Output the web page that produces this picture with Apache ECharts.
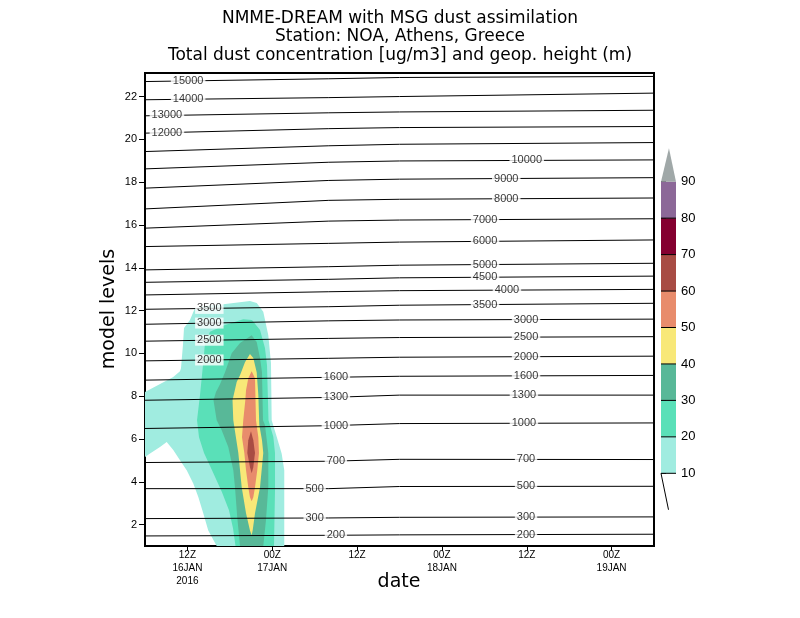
<!DOCTYPE html>
<html>
<head>
<meta charset="utf-8">
<script src="https://cdn.jsdelivr.net/npm/echarts@6/dist/echarts.min.js"></script>
<style>
html,body{margin:0;padding:0;background:#fff}
#chart{width:800px;height:618px}
</style>
</head>
<body>
<div id="chart"></div>
<script>
// time axis in hours since 00Z 16JAN2016
var xTicks = [12, 24, 36, 48, 60, 72];
var xTickLabels = ['12Z\n16JAN\n2016', '00Z\n17JAN', '12Z', '00Z\n18JAN', '12Z', '00Z\n19JAN'];
var yTicks = [2, 4, 6, 8, 10, 12, 14, 16, 18, 20, 22];

// geopotential height contours (model level at each hour of geoHours)
var geoHours = [6, 32, 42, 78];
var geoHeights = [15000, 14000, 13000, 12000, 11000, 10000, 9000, 8000, 7000, 6000, 5000, 4500,
                  4000, 3500, 3000, 2500, 2000, 1600, 1300, 1000, 700, 500, 300, 200];
var geoLevels = [
    [22.70, 22.83, 22.89, 22.94],
    [21.85, 21.95, 22.00, 22.16],
    [21.10, 21.24, 21.28, 21.36],
    [20.29, 20.50, 20.55, 20.60],
    [19.43, 19.70, 19.77, 19.85],
    [18.62, 18.93, 18.99, 19.04],
    [17.72, 18.08, 18.14, 18.21],
    [16.75, 17.15, 17.20, 17.26],
    [15.85, 16.18, 16.23, 16.29],
    [14.99, 15.14, 15.20, 15.30],
    [13.90, 14.05, 14.12, 14.21],
    [13.32, 13.46, 13.53, 13.61],
    [12.73, 12.88, 12.93, 12.99],
    [12.06, 12.18, 12.25, 12.34],
    [11.36, 11.52, 11.56, 11.60],
    [10.57, 10.70, 10.74, 10.78],
    [9.65, 9.77, 9.82, 9.87],
    [8.75, 8.88, 8.93, 8.97],
    [7.81, 7.94, 8.05, 8.05],
    [6.49, 6.62, 6.72, 6.75],
    [4.90, 4.96, 5.05, 5.04],
    [3.68, 3.68, 3.78, 3.79],
    [2.28, 2.31, 2.34, 2.36],
    [1.47, 1.50, 1.52, 1.55]
];
// where the contour labels sit (hours)
var geoLabelHours = [[12.1], [12.1], [9.1], [9.1], [], [60.0], [57.1], [57.1], [54.1], [54.1], [54.1], [54.1],
    [57.2], [15.1, 54.1], [15.1, 59.9], [15.1, 59.9], [15.1, 59.9], [33.0, 59.9], [33.0, 59.6], [33.0, 59.6],
    [33.0, 59.9], [30.0, 59.9], [30.0, 59.9], [33.0, 59.9]];

// dust concentration shaded areas, outline of region >= level, [hour, model level]
var dust10 = [[6.00, 8.20], [10.00, 8.90], [10.95, 9.17], [11.09, 9.31], [11.37, 10.39], [11.52, 11.18], [12.36, 11.56],
    [13.07, 12.12], [14.73, 12.23], [17.08, 12.29], [20.85, 12.45], [21.80, 12.35], [22.73, 11.94], [23.44, 10.85],
    [23.82, 9.55], [23.92, 6.88], [24.63, 6.10], [25.33, 5.32], [25.70, 4.54], [25.70, 1], [16.14, 1], [14.95, 1.73],
    [14.25, 2.52], [13.54, 3.29], [12.83, 3.92], [11.90, 4.54], [10.95, 5.01], [10.00, 5.48], [9.07, 5.86],
    [8.12, 5.63], [6.71, 5.32], [6.00, 5.16]];
var dust20 = [[15.19, 11.01], [17.32, 11.32], [19.90, 11.60], [21.13, 11.56], [22.27, 11.09], [22.97, 10.25],
    [23.26, 9.45], [23.47, 6.88], [24.15, 6.10], [24.39, 5.34], [24.39, 3.61], [24.25, 1], [18.80, 1], [18.45, 1.83],
    [17.88, 2.67], [16.89, 3.51], [15.48, 4.54], [14.35, 5.34], [13.64, 6.08], [13.36, 6.88], [13.78, 8.05],
    [14.20, 9.45], [14.49, 10.48]];
var dust30 = [[19.44, 10.48], [21.09, 10.85], [21.80, 10.53], [22.27, 9.78], [22.55, 9.12], [22.69, 6.88],
    [22.97, 6.65], [23.44, 5.34], [23.44, 3.75], [23.11, 2.20], [22.73, 1], [19.44, 1], [19.05, 2.34], [18.73, 3.75],
    [18.49, 4.54], [17.78, 5.62], [16.85, 6.41], [16.14, 6.88], [15.69, 7.81], [16.04, 8.19], [16.61, 8.56],
    [17.32, 9.12], [18.26, 10.01]];
var dust40 = [[20.85, 9.97], [21.32, 9.78], [21.80, 9.12], [22.03, 8.05], [22.17, 6.65], [22.55, 5.94], [22.73, 5.34],
    [22.27, 3.75], [21.56, 2.53], [21.23, 1.73], [21.09, 1.50], [20.85, 1.73], [20.29, 2.53], [19.68, 3.75],
    [19.20, 5.34], [18.49, 6.88], [18.38, 7.81], [18.97, 8.66], [19.44, 8.98], [20.14, 9.59]];
var dust50 = [[21.09, 9.17], [21.56, 8.84], [21.70, 6.88], [22.03, 6.08], [22.12, 5.34], [21.88, 4.54], [21.56, 3.75],
    [21.32, 3.28], [21.09, 3.09], [20.85, 3.28], [20.61, 3.75], [20.29, 4.54], [20.05, 5.34], [19.72, 6.08],
    [19.90, 6.88], [20.19, 7.81], [20.29, 8.28], [20.61, 8.84]];
var dust60 = [[20.99, 6.36], [21.32, 5.94], [21.56, 5.34], [21.32, 4.68], [21.09, 4.40], [20.85, 4.68], [20.47, 5.34],
    [20.61, 5.94]];

// colour scale
var cbLevels = [10, 20, 30, 40, 50, 60, 70, 80, 90];
var cbColors = ['#a0ece0', '#5ae0b8', '#58b898', '#f8e878', '#e88c6c', '#a84c44', '#840030', '#8c6898'];
var cbOverColor = '#a0a8a8';

var dustShapes = [dust10, dust20, dust30, dust40, dust50, dust60];

var chart = echarts.init(document.getElementById('chart'));
var FONT = 'Liberation Sans';
var TFONT = '17px "DejaVu Sans"';

function levelAt(i, h) {
    var L = geoLevels[i];
    for (var j = 0; j < geoHours.length - 1; j++) {
        if (h >= geoHours[j] && h <= geoHours[j + 1]) {
            var t = (h - geoHours[j]) / (geoHours[j + 1] - geoHours[j]);
            return L[j] + t * (L[j + 1] - L[j]);
        }
    }
    return L[L.length - 1];
}

var series = [];

series.push({
    type: 'custom',
    xAxisIndex: 0, yAxisIndex: 0,
    silent: true, z: 1, clip: true,
    data: dustShapes.map(function(s, i) { return [s[0][0], s[0][1], i]; }),
    renderItem: function(params, api) {
        var i = api.value(2);
        return {
            type: 'polygon',
            shape: { points: dustShapes[i].map(function(p) { return api.coord(p); }) },
            style: { fill: cbColors[i], stroke: null }
        };
    }
});

var labelData = [];
for (var i = 0; i < geoHeights.length; i++) {
    series.push({
        type: 'line',
        xAxisIndex: 0, yAxisIndex: 0,
        silent: true, z: 3,
        symbol: 'none',
        lineStyle: { color: '#000', width: 1 },
        data: geoHours.map(function(h, j) { return [h, geoLevels[i][j]]; })
    });
    geoLabelHours[i].forEach(function(h) {
        labelData.push([h, levelAt(i, h), geoHeights[i]]);
    });
}

series.push({
    type: 'scatter',
    xAxisIndex: 0, yAxisIndex: 0,
    silent: true, z: 4,
    symbolSize: 0,
    data: labelData,
    label: {
        show: true, position: 'inside',
        formatter: function(p) { return p.value[2]; },
        color: '#000', fontFamily: FONT, fontSize: 11,
        backgroundColor: '#fff', padding: [0, 2]
    }
});

// colour bar
series.push({
    type: 'custom',
    xAxisIndex: 1, yAxisIndex: 1,
    silent: true, clip: false,
    data: cbColors.map(function(c, i) { return [0, cbLevels[i], i]; }),
    renderItem: function(params, api) {
        var i = api.value(2);
        var p0 = api.coord([0, cbLevels[i + 1]]);
        var p1 = api.coord([1, cbLevels[i]]);
        return {
            type: 'group',
            children: [
                { type: 'rect', shape: { x: p0[0], y: p0[1], width: p1[0] - p0[0], height: p1[1] - p0[1] },
                  style: { fill: cbColors[i] } },
                { type: 'line', shape: { x1: p0[0], y1: p1[1], x2: p1[0], y2: p1[1] },
                  style: { stroke: '#000', lineWidth: 1 } }
            ]
        };
    }
});
series.push({
    type: 'custom',
    xAxisIndex: 1, yAxisIndex: 1,
    silent: true, clip: false,
    data: [[0, 90]],
    renderItem: function(params, api) {
        return {
            type: 'group',
            children: [
                { type: 'polygon',
                  shape: { points: [api.coord([0, 90]), api.coord([1, 90]), api.coord([0.53, 99.2])] },
                  style: { fill: cbOverColor } },
                { type: 'line',
                  shape: { x1: api.coord([0, 10])[0], y1: api.coord([0, 10])[1],
                           x2: api.coord([0.5, 0])[0], y2: api.coord([0.5, 0])[1] },
                  style: { stroke: '#000', lineWidth: 1 } }
            ]
        };
    }
});

var option = {
    animation: false,
    backgroundColor: '#fff',
    grid: [
        { left: 145, top: 73, width: 509, height: 473, show: true, borderColor: '#000', borderWidth: 2,
          backgroundColor: '#fff' },
        { left: 661, top: 181.7, width: 15, height: 291.6 }
    ],
    xAxis: [{
        type: 'value', gridIndex: 0, min: 6, max: 78,
        axisLine: { show: true, lineStyle: { color: '#000', width: 2 } },
        axisTick: { show: true, inside: false, length: 5, customValues: xTicks, lineStyle: { color: '#000', width: 1 } },
        axisLabel: {
            customValues: xTicks, color: '#000', fontFamily: FONT, fontSize: 10, lineHeight: 13, margin: 3,
            formatter: function(v) { return xTickLabels[xTicks.indexOf(v)]; }
        },
        splitLine: { show: false }
    }, {
        type: 'value', gridIndex: 1, min: 0, max: 1, show: false
    }],
    yAxis: [{
        type: 'value', gridIndex: 0, min: 1, max: 23.1,
        axisLine: { show: true, lineStyle: { color: '#000', width: 2 } },
        axisTick: { show: true, inside: false, length: 6, customValues: yTicks, lineStyle: { color: '#000', width: 1 } },
        axisLabel: { customValues: yTicks, color: '#000', fontFamily: FONT, fontSize: 11, margin: 8 },
        splitLine: { show: false }
    }, {
        type: 'value', gridIndex: 1, min: 10, max: 90, interval: 10, position: 'right',
        axisLine: { show: false },
        axisTick: { show: true, inside: false, length: 5, lineStyle: { color: '#000', width: 1 } },
        axisLabel: { color: '#000', fontFamily: FONT, fontSize: 13, margin: 5 },
        splitLine: { show: false }
    }],
    graphic: [
        { type: 'text', left: 'center', top: 10, style: { text: 'NMME-DREAM with MSG dust assimilation',
          font: TFONT, fill: '#000' } },
        { type: 'text', left: 'center', top: 28, style: { text: 'Station: NOA, Athens, Greece',
          font: TFONT, fill: '#000' } },
        { type: 'text', left: 'center', top: 47, style: { text: 'Total dust concentration [ug/m3] and geop. height (m)',
          font: TFONT, fill: '#000' } },
        { type: 'text', x: 109, y: 309, rotation: Math.PI / 2,
          style: { text: 'model levels', font: '19px "DejaVu Sans"', fill: '#000',
                   textAlign: 'center', textVerticalAlign: 'middle' } },
        { type: 'text', x: 399, y: 582,
          style: { text: 'date', font: '19px "DejaVu Sans"', fill: '#000',
                   textAlign: 'center', textVerticalAlign: 'middle' } }
    ],
    series: series
};

chart.setOption(option);
</script>
</body>
</html>
